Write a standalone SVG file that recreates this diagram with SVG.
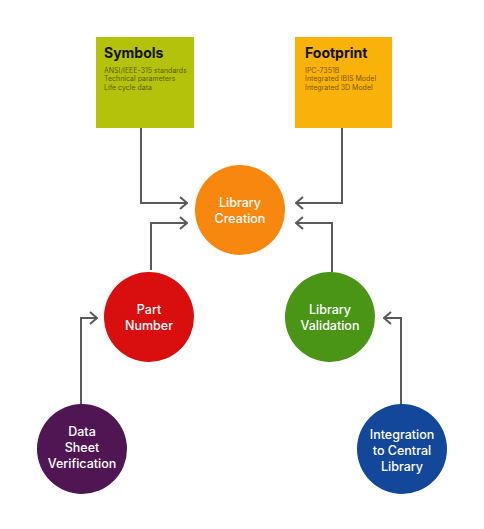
<svg xmlns="http://www.w3.org/2000/svg" width="484" height="529" viewBox="0 0 484 529">
<defs>
<style>
.t{font-family:Inter,"Liberation Sans",sans-serif;fill:#fff;font-size:12.5px;font-weight:500;text-anchor:middle}
.h{font-family:Inter,"Liberation Sans",sans-serif;font-weight:700;font-size:14px;fill:#111}
.s{font-family:Inter,"Liberation Sans",sans-serif;font-size:7px;fill:#000;fill-opacity:0.55}
.c{fill:none;stroke:#5a5a5a;stroke-width:2}
</style>
<marker id="a" viewBox="0 0 10 14" refX="9" refY="7" markerWidth="10" markerHeight="14" markerUnits="userSpaceOnUse" orient="auto">
<path d="M2,1 L9,7 L2,13" fill="none" stroke="#5a5a5a" stroke-width="2"/>
</marker>
</defs>
<rect width="484" height="529" fill="#fff"/>
<g id="connectors">
<polyline class="c" points="141,128 141,203 187,203" marker-end="url(#a)"/>
<polyline class="c" points="151,270 151,223 187,223" marker-end="url(#a)"/>
<polyline class="c" points="342,128 342,203 296,203" marker-end="url(#a)"/>
<polyline class="c" points="332,272 332,223 296,223" marker-end="url(#a)"/>
<polyline class="c" points="81,405 81,318 97,318" marker-end="url(#a)"/>
<polyline class="c" points="401,405 401,318 384,318" marker-end="url(#a)"/>
</g>
<g id="symbols">
<rect x="96" y="37" width="98" height="91" fill="#b4c20c"/>
<text class="h" x="104" y="58">Symbols</text>
<text class="s" x="104" y="72.5">ANSI/IEEE-315 standards</text>
<text class="s" x="104" y="81">Technical parameters</text>
<text class="s" x="104" y="89.5">Life cycle data</text>
</g>
<g id="footprint">
<rect x="295" y="37" width="97" height="91" fill="#f8b20a"/>
<text class="h" x="305" y="58">Footprint</text>
<text class="s" x="305" y="72.5">IPC-7351B</text>
<text class="s" x="305" y="81">Integrated IBIS Model</text>
<text class="s" x="305" y="89.5">Integrated 3D Model</text>
</g>
<g id="library-creation">
<circle cx="240" cy="210" r="45" fill="#f7870f"/>
<text class="t" x="240" y="207">Library</text>
<text class="t" x="240" y="223">Creation</text>
</g>
<g id="part-number">
<circle cx="149" cy="317" r="45" fill="#d90e0e"/>
<text class="t" x="149" y="314">Part</text>
<text class="t" x="149" y="330">Number</text>
</g>
<g id="library-validation">
<circle cx="330" cy="317" r="45" fill="#4a9416"/>
<text class="t" x="330" y="314">Library</text>
<text class="t" x="330" y="330">Validation</text>
</g>
<g id="data-sheet">
<circle cx="82" cy="449" r="45" fill="#4f1653"/>
<text class="t" x="82" y="436">Data</text>
<text class="t" x="82" y="452">Sheet</text>
<text class="t" x="82" y="468">Verification</text>
</g>
<g id="integration">
<circle cx="402" cy="449" r="45" fill="#13479a"/>
<text class="t" x="402" y="439">Integration</text>
<text class="t" x="402" y="455">to Central</text>
<text class="t" x="402" y="471">Library</text>
</g>
</svg>
